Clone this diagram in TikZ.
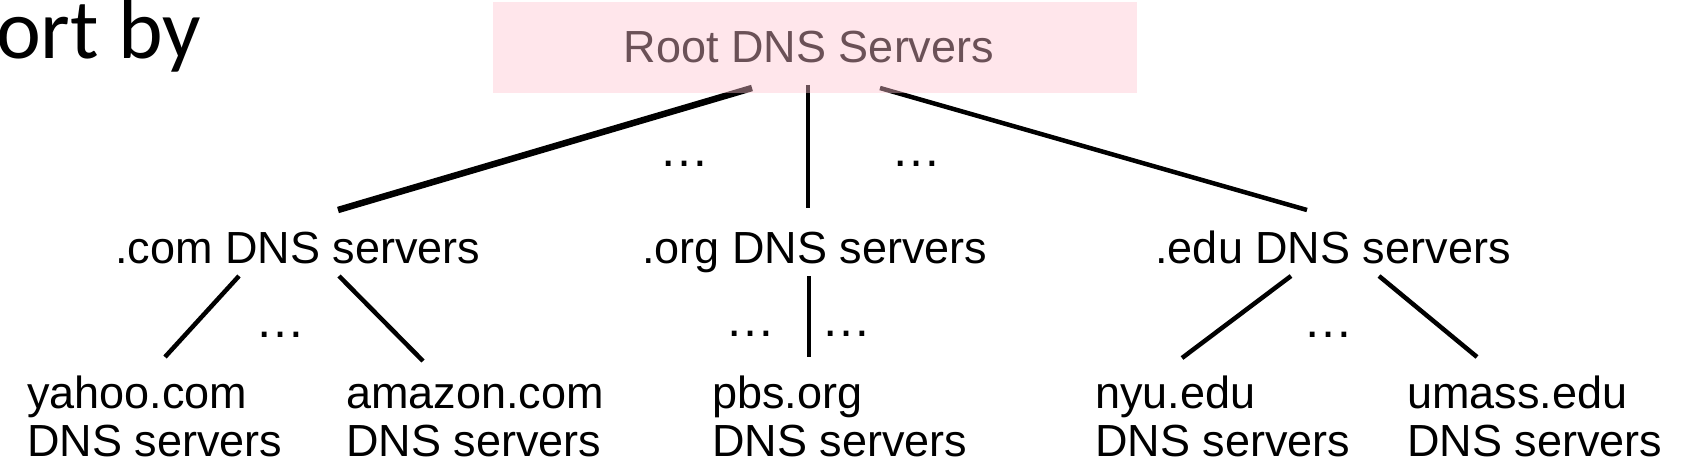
\documentclass[tikz,border=0pt]{standalone}
\usepackage{fontspec}
\setmainfont{Liberation Sans}
\newfontfamily\calibri{Carlito}
\definecolor{rootpink}{RGB}{255,195,208}
\begin{document}
\begin{tikzpicture}[x=1pt,y=-1pt,
  lbl/.style={inner sep=0pt, font=\fontsize{45}{48.5}\selectfont},
  dots/.style={inner sep=0pt, anchor=base, font=\fontsize{50}{50}\selectfont},
  link/.style={line width=4.5pt},
  thicklink/.style={line width=6.5pt}]
\useasboundingbox (0,0) rectangle (1683,465);
% title fragment
\node[anchor=base west, inner sep=0pt, font=\calibri\fontsize{85}{92}\selectfont] (title) at (-4,59) {ort by};
% root label (drawn black, tinted by the translucent box on top)
\node[lbl, anchor=base] (roottxt) at (809,63) {Root DNS Servers};
% level 2
\node[lbl, anchor=base] (com) at (298,263) {.com DNS servers};
\node[lbl, anchor=base] (org) at (815,263) {.org DNS servers};
\node[lbl, anchor=base] (edu) at (1333,263) {.edu DNS servers};
% level 3
\node[lbl, anchor=base west] (yahoo) at (27,408) {\begin{tabular}[t]{@{}l@{}}yahoo.com\\DNS servers\end{tabular}};
\node[lbl, anchor=base west] (amazon) at (346,408) {\begin{tabular}[t]{@{}l@{}}amazon.com\\DNS servers\end{tabular}};
\node[lbl, anchor=base west] (pbs) at (712,408) {\begin{tabular}[t]{@{}l@{}}pbs.org\\DNS servers\end{tabular}};
\node[lbl, anchor=base west] (nyu) at (1095,408) {\begin{tabular}[t]{@{}l@{}}nyu.edu\\DNS servers\end{tabular}};
\node[lbl, anchor=base west] (umass) at (1407,408) {\begin{tabular}[t]{@{}l@{}}umass.edu\\DNS servers\end{tabular}};
% ellipses
\node[dots] (d1) at (684,167) {\ldots};
\node[dots] (d2) at (916,167) {\ldots};
\node[dots] (d3) at (280,337) {\ldots};
\node[dots] (d4) at (750,336) {\ldots};
\node[dots] (d5) at (846,336) {\ldots};
\node[dots] (d6) at (1328,337) {\ldots};
% connector end points
\coordinate (rL) at (752,88);
\coordinate (rM) at (808,85);
\coordinate (rR) at (880,88);
\coordinate (comT) at (338,210);
\coordinate (orgT) at (808,208);
\coordinate (eduT) at (1307,210);
\coordinate (comL) at (239,276);
\coordinate (comR) at (339,276);
\coordinate (yahooT) at (165,357);
\coordinate (amazonT) at (423,361);
\coordinate (orgB) at (809,276);
\coordinate (pbsT) at (809,357);
\coordinate (eduL) at (1291,276);
\coordinate (eduR) at (1379,276);
\coordinate (nyuT) at (1182,358);
\coordinate (umassT) at (1477,357);
% connectors
\draw[thicklink] (rL) -- (comT);
\draw[link] (rM) -- (orgT);
\draw[link] (rR) -- (eduT);
\draw[link] (comL) -- (yahooT);
\draw[link] (comR) -- (amazonT);
\draw[link] (orgB) -- (pbsT);
\draw[link] (eduL) -- (nyuT);
\draw[link] (eduR) -- (umassT);
% translucent root box on top
\node[fill=rootpink, fill opacity=0.42, inner sep=0pt, minimum width=644pt, minimum height=91pt, anchor=north west] (root) at (493,2) {};
\end{tikzpicture}
\end{document}
